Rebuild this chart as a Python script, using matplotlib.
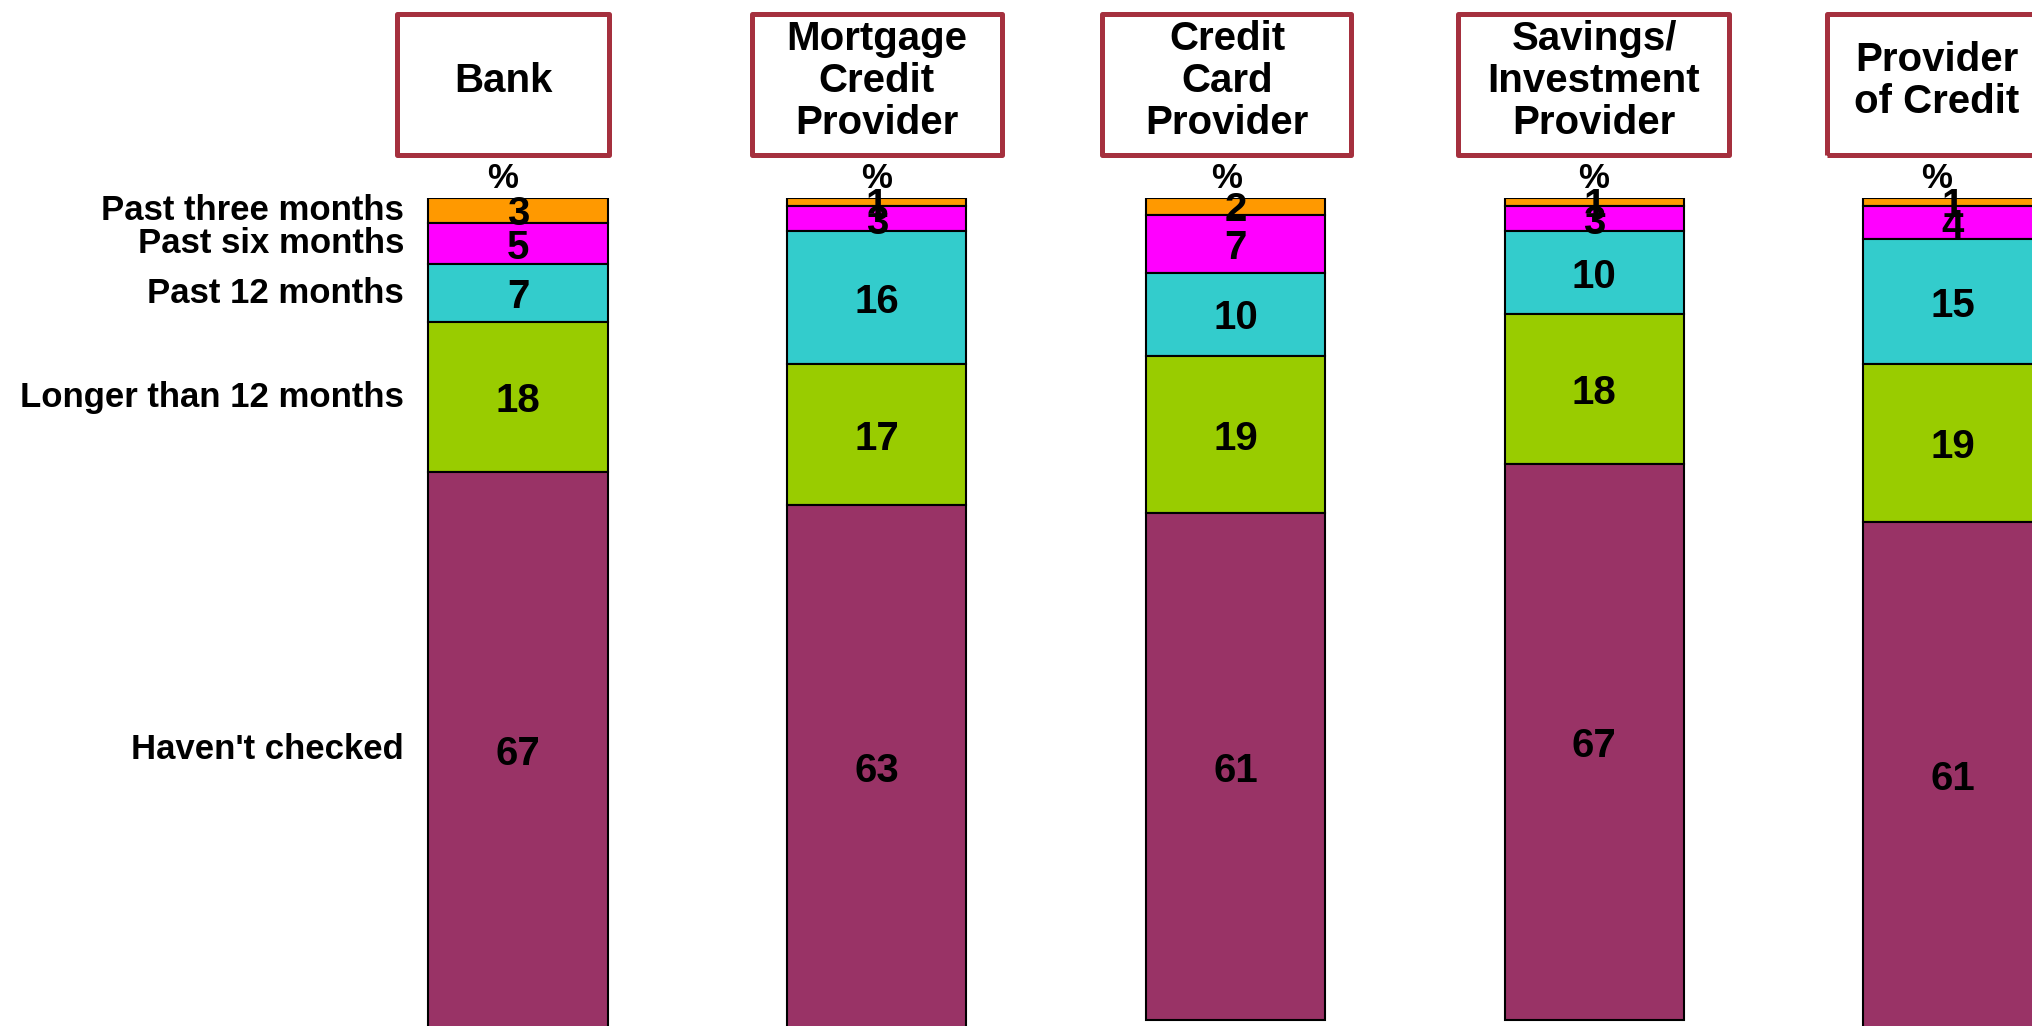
"""
Stacked bars: when did people last check each provider
"""
import matplotlib.pyplot as plt
from matplotlib.patches import Rectangle
from matplotlib.transforms import blended_transform_factory

plt.rcParams['font.family'] = ['Liberation Sans', 'DejaVu Sans']

# data (top to bottom within each bar)
providers = ['Bank', 'Mortgage\nCredit\nProvider', 'Credit\nCard\nProvider',
             'Savings/\nInvestment\nProvider', 'Provider\nof Credit']
periods = ['Past three months', 'Past six months', 'Past 12 months',
           'Longer than 12 months', "Haven't checked"]
past_three = [3, 1, 2, 1, 1]
past_six = [5, 3, 7, 3, 4]
past_twelve = [7, 16, 10, 10, 15]
longer = [18, 17, 19, 18, 19]
never = [67, 63, 61, 67, 61]

series = [past_three, past_six, past_twelve, longer, never]
colors = ['#FF9900', '#FF00FF', '#33CCCC', '#99CC00', '#993366']

# layout in pixels
W, H = 2033, 1026
box_x = [(395, 611), (749, 1004), (1100, 1354), (1456, 1732), (1825, 2049)]
box_top, box_bot = 11, 157
box_color = '#A5303E'

fig = plt.figure(figsize=(W / 100, H / 100), dpi=100)
ax = fig.add_axes([0, -2 / H, 1, 830 / H])

x = list(range(len(providers)))
bottom = [0] * len(providers)
for vals, col in zip(series, colors):
    ax.bar(x, vals, bottom=bottom, width=0.5, color=col,
           edgecolor='black', linewidth=1.5)
    for xi, b, v in zip(x, bottom, vals):
        ax.text(xi, b + v / 2, str(v), ha='center', va='center_baseline',
                fontsize=29, fontweight='bold')
    bottom = [b + v for b, v in zip(bottom, vals)]

ax.set_ylim(100, 0)
ax.set_xlim(-1.444, 4.223)
ax.axis('off')

# period labels, lined up with the first bar's segments
trans = blended_transform_factory(fig.transFigure, ax.transData)
cum = 0
for lab, vals in zip(periods, series):
    ax.text(404 / W, cum + vals[0] / 2, lab, transform=trans, ha='right',
            va='center', fontsize=25, fontweight='bold')
    cum += vals[0]

# header boxes
lw_px = 5
for (l, r), name in zip(box_x, providers):
    rect = Rectangle(((l + lw_px / 2) / W, 1 - (box_bot - lw_px / 2) / H),
                     (r - l - lw_px) / W, (box_bot - box_top - lw_px) / H,
                     transform=fig.transFigure, fill=False,
                     edgecolor=box_color, linewidth=lw_px * 0.72,
                     joinstyle='round')
    fig.patches.append(rect)
    cx = (l + r) / 2 / W
    fig.text(cx, 1 - 81 / H, name, ha='center', va='center', fontsize=29,
             fontweight='bold', linespacing=1.12)
    fig.text(cx, 1 - 179 / H, '%', ha='center', va='center', fontsize=25,
             fontweight='bold')

plt.savefig('out.png', dpi=100)
